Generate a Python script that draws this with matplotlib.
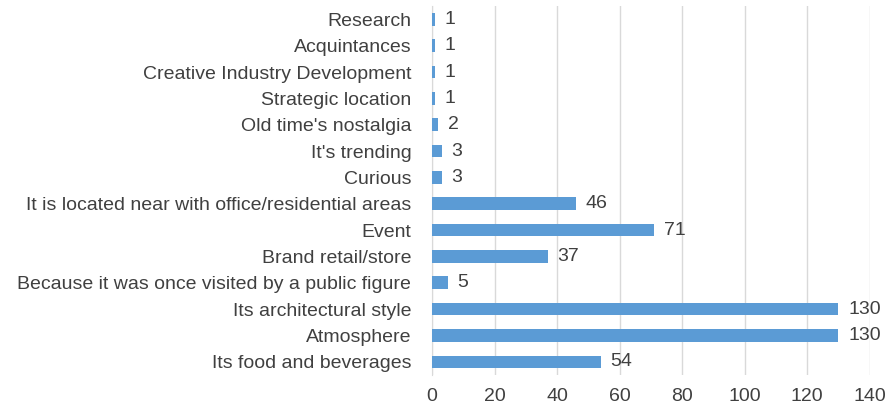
import matplotlib
matplotlib.use("Agg")
import matplotlib.pyplot as plt

plt.rcParams['font.family'] = ['Liberation Sans', 'DejaVu Sans']

categories = [
    "Its food and beverages",
    "Atmosphere",
    "Its architectural style",
    "Because it was once visited by a public figure",
    "Brand retail/store",
    "Event",
    "It is located near with office/residential areas",
    "Curious",
    "It's trending",
    "Old time's nostalgia",
    "Strategic location",
    "Creative Industry Development",
    "Acquintances",
    "Research",
]
values = [54, 130, 130, 5, 37, 71, 46, 3, 3, 2, 1, 1, 1, 1]
xticks = [0, 20, 40, 60, 80, 100, 120, 140]

fig = plt.figure(figsize=(8.91, 4.09), dpi=100)
ax = fig.add_axes([0.485, 0.083, 0.491, 0.902])

y = range(len(categories))
ax.barh(y, values, height=0.48, color="#5B9BD5", zorder=3)
for yi, v in zip(y, values):
    ax.annotate(str(v), xy=(v, yi), xytext=(7, 0), textcoords="offset points",
                va="center", ha="left", fontsize=14, color="#404040")

ax.set_yticks(list(y))
ax.set_yticklabels(categories, fontsize=14, color="#404040")
ax.set_xticks(xticks)
ax.set_xticklabels([str(t) for t in xticks], fontsize=14, color="#404040")
ax.set_xlim(0, 140)
ax.set_ylim(-0.5, len(categories) - 0.5)

ax.grid(axis="x", color="#D9D9D9", linewidth=1, zorder=0)
for s in ["top", "right", "bottom"]:
    ax.spines[s].set_visible(False)
ax.spines["left"].set_color("#D9D9D9")
ax.tick_params(axis="both", length=0)
ax.tick_params(axis="x", pad=9)
ax.tick_params(axis="y", pad=15)

fig.savefig("out.png", dpi=100)
